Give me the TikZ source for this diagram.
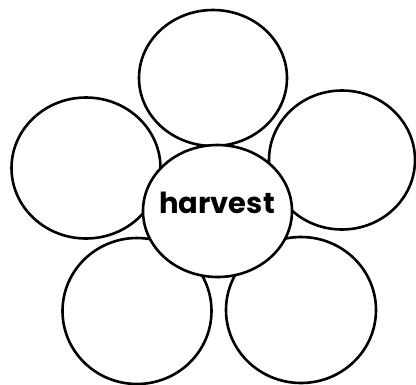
\documentclass[tikz,border=0pt]{standalone}
\usepackage{fontspec}
\setmainfont{Poppins}
\usetikzlibrary{shapes.geometric}

\begin{document}
\begin{tikzpicture}[x=1pt,y=-1pt,
  petal/.style={draw,ellipse,fill=white,line width=2.6pt,inner sep=0pt}]
  \useasboundingbox (0,0) rectangle (416,384);
  \foreach \n/\x/\y/\w/\h in {top/213/78/148/136,left/86/168/149/141,right/342/160/146/139,lowleft/137/311/149/146,lowright/301/310/150/146}
    \node[petal,minimum width=\w pt,minimum height=\h pt] (\n) at (\x,\y) {};
  \node[petal,minimum width=149pt,minimum height=132pt] (mid) at (217.5,211) {};
  \node[font=\fontsize{29}{32}\selectfont\bfseries] (word) at (217,203) {harvest};
\end{tikzpicture}
\end{document}
